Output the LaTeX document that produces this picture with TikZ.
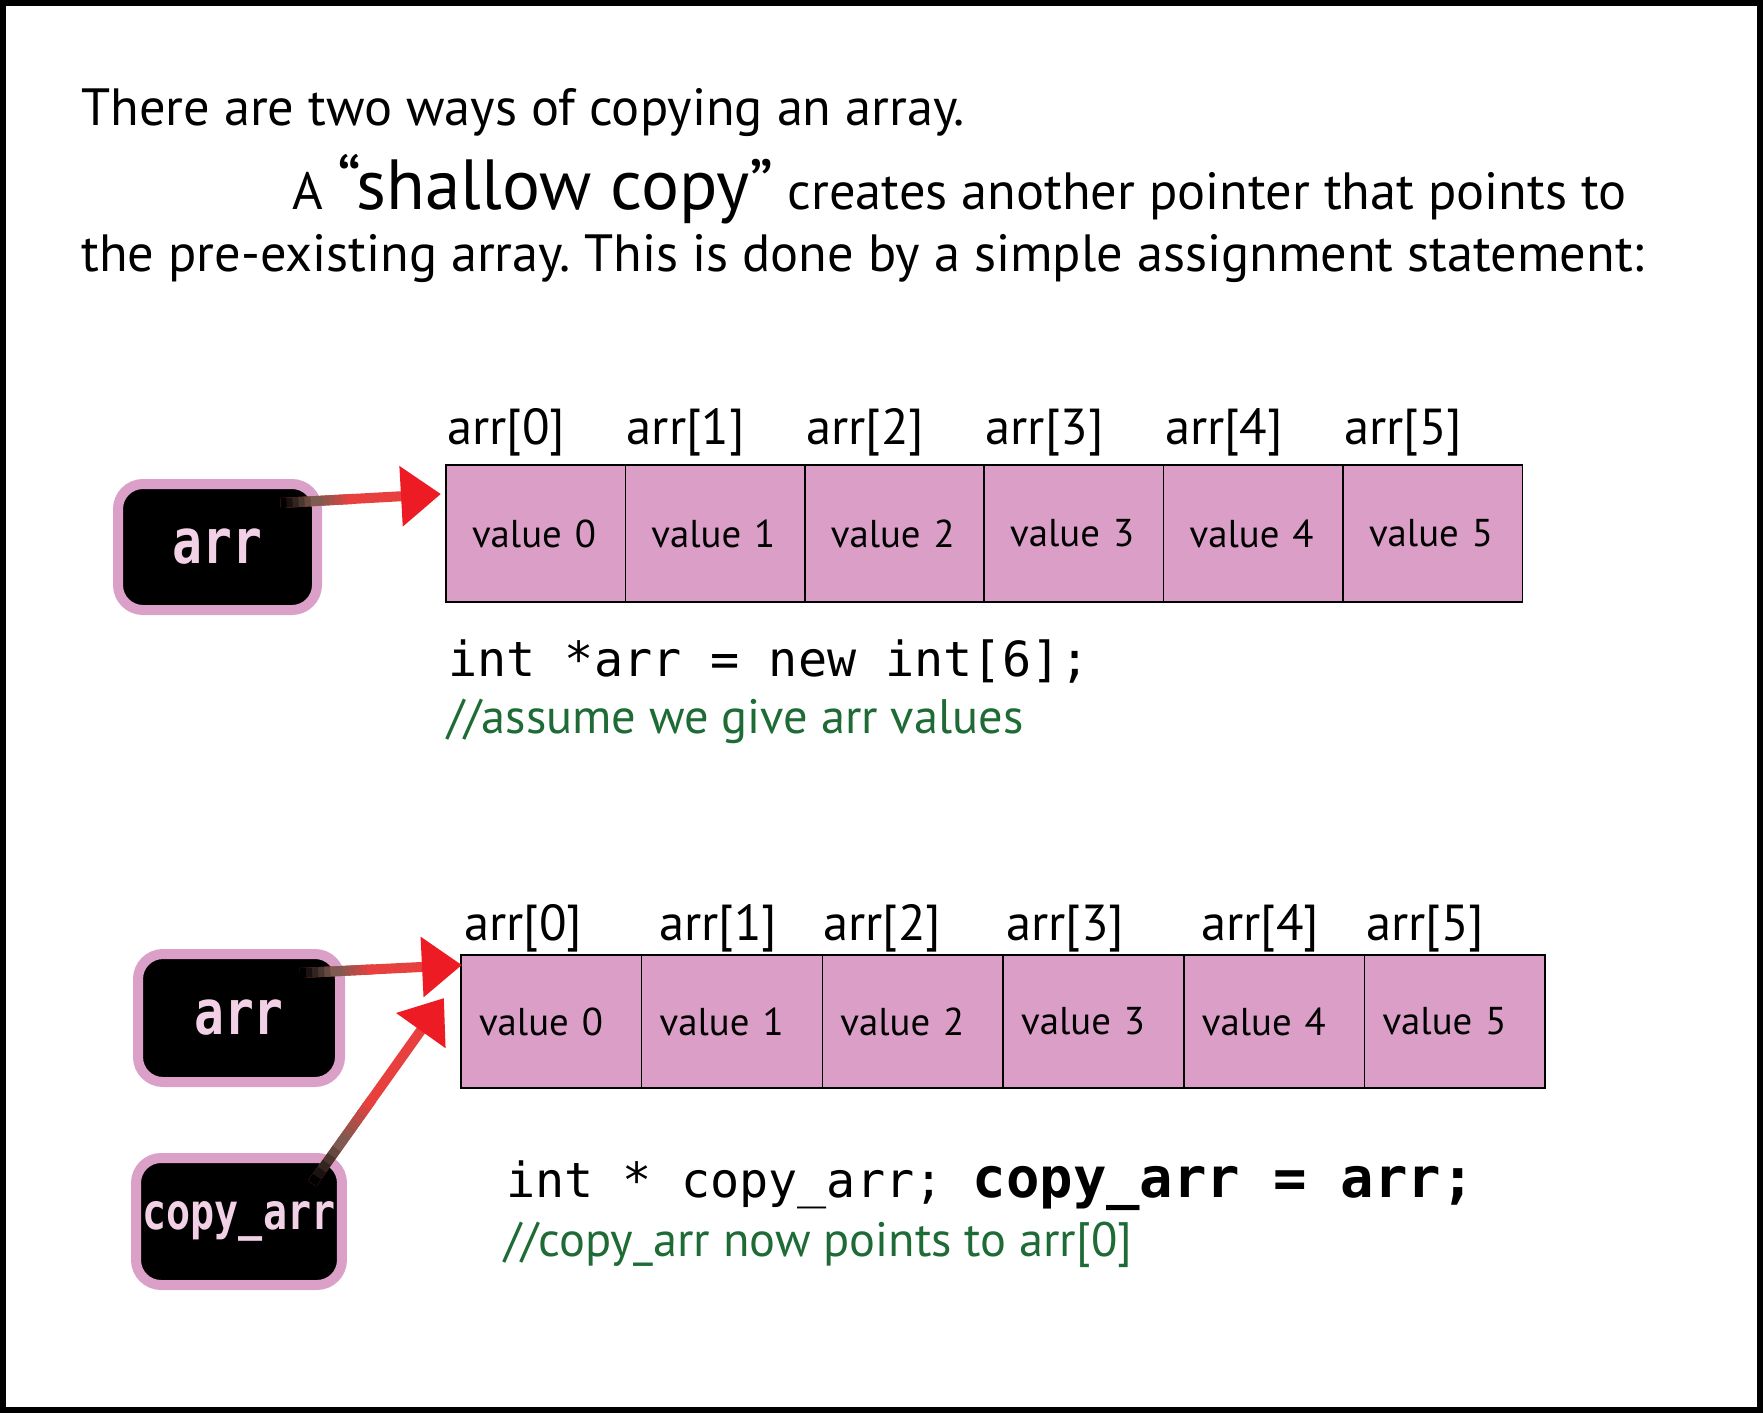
\documentclass[tikz,border=0pt]{standalone}
\usepackage{fontspec}
\setmainfont{PT Sans}
\newfontfamily\codefont{DejaVu Sans Mono}
\newfontfamily\ptrfont[FakeStretch=0.8]{DejaVu Sans Mono}
\usetikzlibrary{arrows.meta,calc}
\frenchspacing

\definecolor{cellpink}{HTML}{DB9EC7}
\definecolor{boxpink}{HTML}{DBA0C8}
\definecolor{textpink}{HTML}{F2D1E6}
\definecolor{arrowred}{HTML}{ED1C24}
\definecolor{shaftred}{HTML}{E8403E}
\definecolor{shaftbrown}{HTML}{7E5A50}
\definecolor{commentgreen}{HTML}{1E6B36}

\tikzset{
  txt/.style={anchor=base west, inner sep=0pt, font=\fontsize{26.2}{32}\selectfont},
  idx/.style={anchor=base west, inner sep=0pt, font=\fontsize{25.3}{30}\selectfont},
  cell/.style={draw, line width=0.75pt, fill=cellpink, anchor=north west, outer sep=0pt,
    align=left, font=\fontsize{19.4}{24}\selectfont},
  rowone/.style={cell, minimum height=68.5pt, text width=63.7pt, inner xsep=13pt},
  rowtwo/.style={cell, minimum height=66.5pt, text width=72.35pt, inner xsep=9pt},
  ptrbox/.style={draw=boxpink, line width=5pt, fill=black, rounded corners=12.5pt,
    text=textpink, font=\ptrfont\bfseries\fontsize{#1}{#1}\selectfont},
  ptrbox/.default=31,
  ptr/.style={line width=5pt, shaftred, -{Triangle[length=20pt, width=29pt, color=arrowred]}},
  code/.style={anchor=base west, inner sep=0pt, font=\codefont\fontsize{24.2}{29}\selectfont},
  comment/.style={anchor=base west, inner sep=0pt, text=commentgreen, font=\fontsize{24.2}{29}\selectfont},
}

% pointer arrow: black inside the box, through brown, to red
\newcommand\pointerarrow[2]{%
  \draw[ptr] (#1) -- (#2);
  \foreach \k in {1,...,12}{%
    \pgfmathsetmacro\ta{(\k-1)*0.0375}%
    \pgfmathsetmacro\tb{\k*0.0375+0.005}%
    \ifnum\k<7
      \pgfmathtruncatemacro\pct{(\k-1)*20}%
      \colorlet{segcol}{shaftbrown!\pct!black}%
    \else
      \pgfmathtruncatemacro\pct{(\k-7)*20}%
      \colorlet{segcol}{shaftred!\pct!shaftbrown}%
    \fi
    \draw[line width=5pt, segcol] ($(#1)!\ta!(#2)$) -- ($(#1)!\tb!(#2)$);
  }%
}

\begin{document}
\begin{tikzpicture}[x=0.5pt, y=-0.5pt]
\useasboundingbox (0,0) rectangle (1763,1413);
\draw[line width=3pt] (3,3) rectangle (1760,1410);

% heading
\node[txt] (line1) at (81,126) {There are two ways of copying an array.};
\node[txt] (line2) at (292,210) {A {\fontsize{35.5}{42}\selectfont “shallow copy”} creates another pointer that points to};
\node[txt] (line3) at (81,271) {the pre-existing array. This is done by a simple assignment statement:};

% first array
\foreach \i in {0,...,5}{
  \node[rowone] (a\i) at ({446+179.4*\i},465) {value~\i};
  \node[idx] (la\i) at ($(a\i.north west)+(1,-21)$) {arr[\i]};
}
\node[ptrbox] (p1) at (217.5,547) [minimum width=99.5pt, minimum height=63pt] {arr};
\coordinate (s1) at ($(p1.center)+(63,-44)$);
\coordinate (t1) at ($(a0.north west)+(-5,29)$);
\pointerarrow{s1}{t1}

\node[code] (decl) at (448,676) {int *arr = new int[6];};
\node[comment] (note1) at (447,733) {//assume we give arr values};

% second array
\foreach \i in {0,...,5}{
  \node[rowtwo] (b\i) at ({461+180.7*\i},955) {value~\i};
}
\foreach \i/\x in {0/464,1/659,2/823,3/1006,4/1201,5/1366}{
  \node[idx] (lb\i) at (\x,940) {arr[\i]};
}
\node[ptrbox] (p2) at (239,1018) [minimum width=101pt, minimum height=64pt] {arr};
\node[ptrbox=25] (p3) at (239,1221.5) [minimum width=101pt, minimum height=63.5pt] {copy\_arr};
\coordinate (s2) at ($(p2.center)+(61,-45)$);
\coordinate (t2) at ($(b0.north west)+(1,10)$);
\coordinate (s3) at ($(p3.center)+(73,-38)$);
\coordinate (t3) at ($(b0.north west)+(-17,43)$);
\pointerarrow{s2}{t2}
\pointerarrow{s3}{t3}

\node[code] (assign) at (506,1197) {int * copy\_arr; {\bfseries\fontsize{27.8}{33}\selectfont copy\_arr = arr;}};
\node[comment] (note2) at (504,1256) {//copy\_arr now points to arr[0]};
\end{tikzpicture}
\end{document}
